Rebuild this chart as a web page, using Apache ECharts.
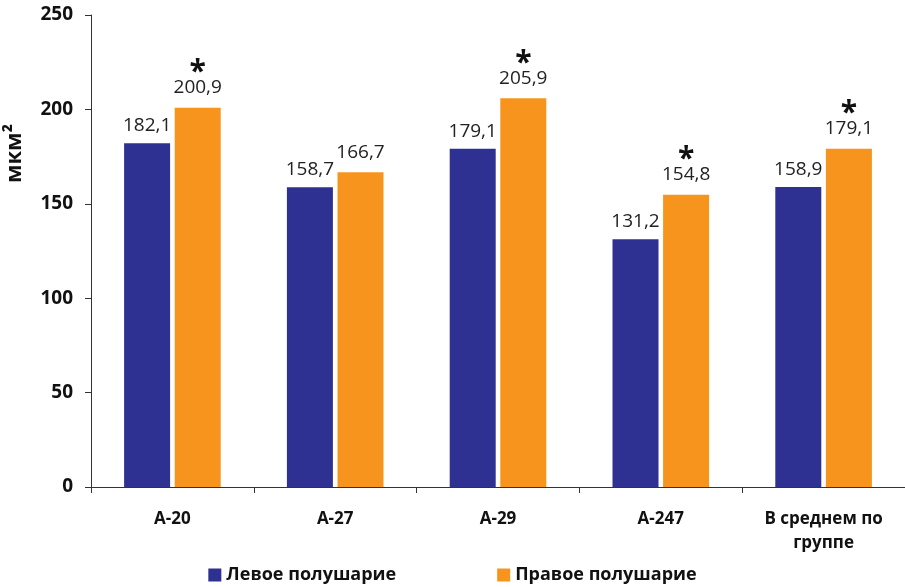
<!DOCTYPE html>
<html>
<head>
<meta charset="utf-8">
<script src="https://cdn.jsdelivr.net/npm/echarts@6/dist/echarts.min.js"></script>
<style>
html,body{margin:0;padding:0;background:#fff;}
#main{width:905px;height:587px;}
</style>
</head>
<body>
<div id="main"></div>
<script>
var categories = ['А-20', 'А-27', 'А-29', 'А-247', 'В среднем по\nгруппе'];
var leftValues = [182.1, 158.7, 179.1, 131.2, 158.9];
var rightValues = [200.9, 166.7, 205.9, 154.8, 179.1];
var rightSignificant = [true, false, true, true, true];
var seriesNames = ['Левое полушарие', 'Правое полушарие'];
var yTicks = [0, 50, 100, 150, 200, 250];
var yAxisName = 'мкм²';

var FONT = 'Open Sans';
function fmt(v){ return v.toFixed(1).replace('.', ','); }

var chart = echarts.init(document.getElementById('main'));
chart.setOption({
  animation: false,
  textStyle: {fontFamily: FONT},
  grid: {left: 91, right: -3, top: 15, bottom: 100},
  legend: {
    bottom: -2, left: 'center',
    itemWidth: 13, itemHeight: 13, itemGap: 101,
    icon: 'rect',
    textStyle: {fontFamily: FONT, fontSize: 18, fontWeight: 'bold', color: '#111'},
    data: seriesNames
  },
  xAxis: {
    type: 'category',
    data: categories,
    axisLine: {lineStyle: {color: '#333', width: 1}},
    axisTick: {show: true, length: 6, lineStyle: {color: '#333'}},
    axisLabel: {fontFamily: FONT, fontSize: 17, fontWeight: 'bold', color: '#111', margin: 20, lineHeight: 24}
  },
  yAxis: {
    type: 'value',
    min: yTicks[0], max: yTicks[yTicks.length - 1], interval: 50,
    axisLine: {show: true, lineStyle: {color: '#333', width: 1}},
    axisTick: {show: true, length: 6, lineStyle: {color: '#333'}},
    splitLine: {show: false},
    axisLabel: {fontFamily: FONT, fontSize: 19, fontWeight: 'bold', color: '#111', margin: 18}
  },
  graphic: [{
    type: 'text',
    left: 4, top: 124,
    rotation: Math.PI / 2,
    style: {text: yAxisName, font: 'bold 22px "' + FONT + '"', fill: '#111'}
  }],
  series: [{
    name: seriesNames[0],
    type: 'bar',
    data: leftValues,
    barWidth: 46,
    barGap: '10%',
    itemStyle: {color: '#2E3192'},
    label: {
      show: true, position: 'top', distance: 8,
      fontFamily: FONT, fontSize: 19, color: '#222',
      formatter: function(p){ return fmt(p.value); }
    }
  }, {
    name: seriesNames[1],
    type: 'bar',
    data: rightValues,
    barWidth: 46,
    barGap: '10%',
    itemStyle: {color: '#F7941D'},
    label: {
      show: true, position: 'top', distance: 8,
      fontFamily: FONT, fontSize: 19, color: '#222',
      formatter: function(p){
        var s = fmt(p.value);
        return rightSignificant[p.dataIndex] ? '{star|*}\n{val|' + s + '}' : '{val|' + s + '}';
      },
      rich: {
        star: {fontFamily: FONT, fontSize: 30, fontWeight: 'bold', color: '#111', lineHeight: 16, padding: [0,0,-10,0]},
        val: {fontFamily: FONT, fontSize: 19, color: '#222', lineHeight: 24}
      }
    }
  }]
});
</script>
</body>
</html>
